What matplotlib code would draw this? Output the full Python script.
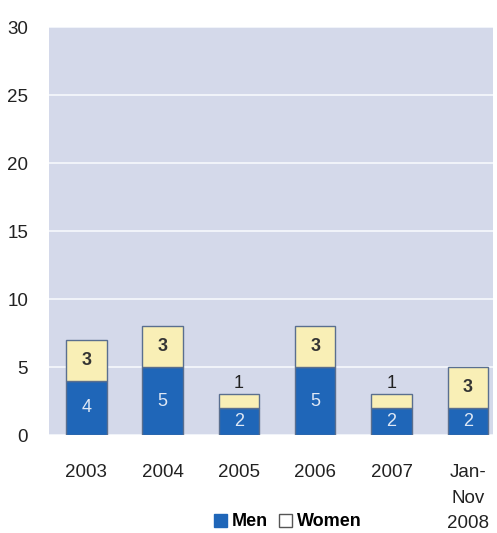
import numpy as np
import matplotlib.pyplot as plt
from matplotlib.patches import Patch

plt.rcParams['font.family'] = ['Liberation Sans', 'DejaVu Sans']

years = ['2003', '2004', '2005', '2006', '2007', 'Jan-\nNov\n2008']
men = [4, 5, 2, 5, 2, 2]
women = [3, 3, 1, 3, 1, 3]

blue = '#1f66b8'
cream = '#f9efb6'
edge = '#5a6f8f'

fig = plt.figure(figsize=(4.97, 5.33), dpi=100)
ax = fig.add_axes([49/497, 1 - 435/533, (493-49)/497, (435-27)/533])
ax.set_facecolor('#d4d9ea')

x = np.arange(len(years))
w = 0.53
ax.bar(x, men, w, color=blue, edgecolor=edge, linewidth=1, zorder=3)
ax.bar(x, women, w, bottom=men, color=cream, edgecolor=edge, linewidth=1, zorder=3)

for i in range(len(years)):
    ax.text(x[i], men[i] / 2, str(men[i]), ha='center', va='center',
            color='#dfe8f5', fontsize=13, zorder=4)
    if women[i] > 1:
        ax.text(x[i], men[i] + women[i] / 2, str(women[i]), ha='center',
                va='center', color='#333333', fontsize=13, fontweight='bold', zorder=4)
    else:
        ax.text(x[i], men[i] + women[i] + 0.15, str(women[i]), ha='center',
                va='bottom', color='#222222', fontsize=13, zorder=4)

ax.set_xlim(-0.49, 5.33)
ax.set_ylim(0, 30)
ax.set_yticks(range(0, 31, 5))
ax.yaxis.grid(True, color='#f4f6fb', linewidth=1.3, zorder=1)
ax.set_axisbelow(True)
ax.set_xticks(x)
ax.set_xticklabels(years, fontsize=13.5, color='#222222', linespacing=1.65, va='top')
ax.tick_params(axis='y', labelsize=13.5, labelcolor='#222222', length=0, pad=15)
ax.tick_params(axis='x', length=0, pad=21)
for s in ax.spines.values():
    s.set_visible(False)

handles = [Patch(facecolor=blue, edgecolor=blue), Patch(facecolor='white', edgecolor='#555555')]
fig.legend(handles, ['Men', 'Women'], loc='center', bbox_to_anchor=(288/497, 1 - 522/533),
           ncol=2, frameon=False, handlelength=0.7, handleheight=0.7, handletextpad=0.3,
           columnspacing=0.6, prop={'weight': 'bold', 'size': 13})

fig.savefig('out.png', dpi=100)
